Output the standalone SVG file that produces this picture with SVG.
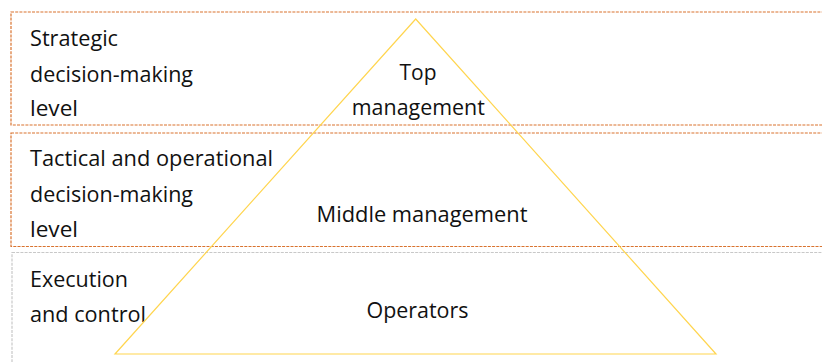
<svg xmlns="http://www.w3.org/2000/svg" width="822" height="362" viewBox="0 0 822 362">
<style>
.lvl{fill:none;stroke:#D9732F;stroke-width:1.2;stroke-dasharray:3 1.2}
.lvl2{fill:none;stroke:#C8C8C8;stroke-width:1.2;stroke-dasharray:3 1.2}
.tri{fill:none;stroke:#FFD54F;stroke-width:1.2}
text{font-family:"Open Sans","Liberation Sans",sans-serif;font-size:21.5px;fill:#111}
.c{text-anchor:middle}
</style>
<rect width="822" height="362" fill="#fff"/>
<g id="level-strategic">
<rect class="lvl" x="11" y="12" width="830" height="113"/>
<text x="30" y="46" textLength="88" lengthAdjust="spacingAndGlyphs">Strategic</text>
<text x="30" y="81.5" textLength="163" lengthAdjust="spacingAndGlyphs">decision-making</text>
<text x="30" y="115.5" textLength="48" lengthAdjust="spacingAndGlyphs">level</text>
</g>
<g id="level-tactical">
<rect class="lvl" x="11" y="133" width="830" height="113.5"/>
<text x="30" y="166" textLength="243" lengthAdjust="spacingAndGlyphs">Tactical and operational</text>
<text x="30" y="201.5" textLength="163" lengthAdjust="spacingAndGlyphs">decision-making</text>
<text x="30" y="236.5" textLength="48" lengthAdjust="spacingAndGlyphs">level</text>
</g>
<g id="level-execution">
<rect class="lvl2" x="12" y="252.5" width="830" height="130"/>
<text x="30" y="286.5" textLength="98" lengthAdjust="spacingAndGlyphs">Execution</text>
<text x="30" y="321.5" textLength="116" lengthAdjust="spacingAndGlyphs">and control</text>
</g>
<g id="pyramid">
<polygon class="tri" points="415.7,19 115,354 716,354"/>
<text class="c" x="418" y="80" textLength="37" lengthAdjust="spacingAndGlyphs">Top</text>
<text class="c" x="418.3" y="115" textLength="133" lengthAdjust="spacingAndGlyphs">management</text>
<text class="c" x="422" y="221.5" textLength="211" lengthAdjust="spacingAndGlyphs">Middle management</text>
<text class="c" x="417.5" y="318" textLength="102" lengthAdjust="spacingAndGlyphs">Operators</text>
</g>
<g id="connectors"></g>
</svg>
